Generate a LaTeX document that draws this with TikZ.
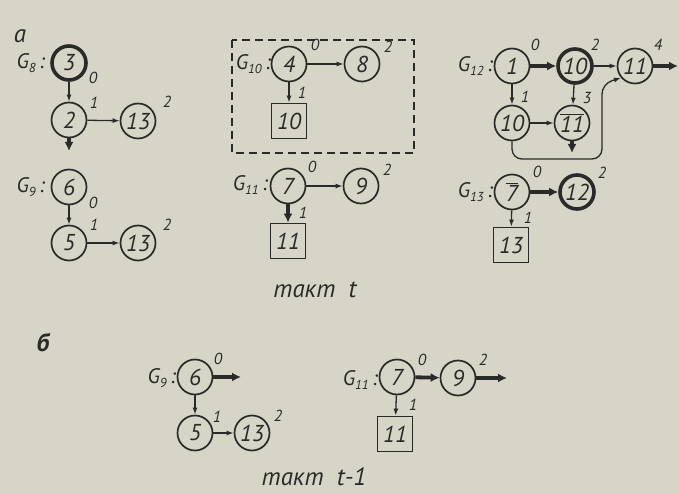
\documentclass[tikz,border=0pt]{standalone}
\usepackage{fontspec}
\setmainfont{PT Sans}
\usetikzlibrary{arrows.meta}
\definecolor{paper}{RGB}{214,213,199}
\definecolor{ink}{RGB}{42,42,40}
\newcommand\nfont{\fontsize{23}{23}\selectfont\itshape}
\newcommand\efont{\fontsize{16}{16}\selectfont\itshape}
\newcommand\gfont{\fontsize{21}{21}\selectfont\itshape}
\newcommand\sbfont{\fontsize{13}{13}\selectfont\itshape}
\newcommand\tfont{\fontsize{25}{25}\selectfont\itshape}
\newcommand\glab[1]{G\raisebox{-4pt}{\sbfont #1}\,:}
\newcommand\obar[1]{\(\overline{\mbox{#1}}\)}
\begin{document}
\begin{tikzpicture}[x=1pt,y=-1pt,
 every node/.style={text=ink},
 st/.style={circle,draw=ink,line width=1.7pt,minimum size=35pt,inner sep=0pt,font=\nfont},
 stk/.style={st,line width=3.6pt,minimum size=34pt},
 sq/.style={rectangle,draw=ink,line width=1.7pt,minimum size=35pt,inner sep=0pt,font=\nfont},
 el/.style={font=\efont,inner sep=0pt},
 gl/.style={font=\gfont,inner sep=0pt,anchor=east},
 ar/.style={draw=ink,line width=1.3pt,-{Latex[length=7pt,width=5pt]}},
 tk/.style={draw=ink,line width=3.8pt,-{Latex[length=9pt,width=9pt]}},
]
\useasboundingbox (0,0) rectangle (679,494);
\fill[paper] (0,0) rectangle (679,494);

% panel a
\node[font=\tfont] (pa) at (20,36) {а};

% G8
\node[stk] (n3) at (69,63) {3};
\node[st] (n2) at (69,120) {2};
\node[st] (n13a) at (138,121) {13};
\node[gl] (g8) at (45,63) {\glab{8}};
\node[el] (l3) at (93,78) {0};
\node[el] (l2) at (94,103) {1};
\node[el] (l13a) at (167,102) {2};
\draw[ar] (n3) -- (n2);
\draw[ar] (n2) -- (n13a);
\coordinate (d2) at (69,151);
\draw[tk] (n2) -- (d2);

% G9
\node[st] (n6) at (69,187) {6};
\node[st] (n5) at (69,243) {5};
\node[st] (n13b) at (138,243) {13};
\node[gl] (g9) at (45,187) {\glab{9}};
\node[el] (l6) at (93,203) {0};
\node[el] (l5) at (94,225) {1};
\node[el] (l13b) at (167,225) {2};
\draw[ar] (n6) -- (n5);
\draw[ar] (n5) -- (n13b);

% G10 (dashed box)
\draw[ink,line width=1.4pt,dash pattern=on 8pt off 5pt] (232,40) rectangle (414,153);
\node[st] (n4) at (289,64) {4};
\node[st] (n8) at (362,64) {8};
\node[sq] (s10) at (289,121) {10};
\node[gl] (g10) at (271,64) {\glab{10}};
\node[el] (l4) at (315,45) {0};
\node[el] (l8) at (388,47) {2};
\node[el] (l10) at (302,93) {1};
\draw[ar] (n4) -- (n8);
\draw[ar] (n4) -- (s10);

% G11 (top)
\node[st] (n7) at (288,186) {7};
\node[st] (n9) at (361,186) {9};
\node[sq] (s11) at (288,241) {11};
\node[gl] (g11) at (268,185) {\glab{11}};
\node[el] (l7) at (312,167) {0};
\node[el] (l9) at (387,170) {2};
\node[el] (l11) at (303,213) {1};
\draw[ar] (n7) -- (n9);
\draw[tk] (n7) -- (s11);
\node[font=\tfont] (ta) at (315,290) {такт\ \ t};

% G12
\node[st] (a1) at (512,66) {1};
\node[stk] (a10) at (575,66) {10};
\node[st] (a11) at (635,66) {11};
\node[st] (b10) at (512,123) {10};
\node[st] (b11) at (572,123) {\obar{11}};
\node[gl] (g12) at (493,66) {\glab{12}};
\node[el] (la1) at (535,45) {0};
\node[el] (la10) at (595,45) {2};
\node[el] (la11) at (658,45) {4};
\node[el] (lb10) at (525,97) {1};
\node[el] (lb11) at (587,98) {3};
\draw[tk] (a1) -- (a10);
\draw[ar] (a10) -- (a11);
\draw[ar] (a10) -- (b11);
\draw[ar] (a1) -- (b10);
\draw[ar] (b10) -- (b11);
\coordinate (oa11) at (678,66);
\draw[tk] (a11) -- (oa11);
\coordinate (db11) at (572,153);
\draw[tk] (b11) -- (db11);
\draw[ar,rounded corners=10pt] (b10.south) -- (512,159) -- (602,159) -- (602,84) -- (a11.220);

% G13
\node[st] (c7) at (512,192) {\obar{7}};
\node[stk] (c12) at (577,192) {12};
\node[sq] (s13) at (511,245) {13};
\node[gl] (g13) at (493,192) {\glab{13}};
\node[el] (lc7) at (537,172) {0};
\node[el] (lc12) at (602,173) {2};
\node[el] (ls13) at (528,218) {1};
\draw[tk] (c7) -- (c12);
\draw[ar] (c7) -- (s13);

% panel b
\node[font=\tfont\bfseries] (pb) at (43,343) {б};

% G9 (b)
\node[st] (m6) at (195,377) {6};
\node[st] (m5) at (195,433) {5};
\node[st] (m13) at (252,433) {13};
\node[gl] (h9) at (176,378) {\glab{9}};
\node[el] (lm6) at (218,359) {0};
\node[el] (lm5) at (217,417) {1};
\node[el] (lm13) at (278,416) {2};
\coordinate (om6) at (241,377);
\draw[tk] (m6) -- (om6);
\draw[ar] (m6) -- (m5);
\draw[ar] (m5) -- (m13);

% G11 (b)
\node[st] (m7) at (397,377) {7};
\node[st] (m9) at (458,378) {9};
\node[sq] (t11) at (395,434) {11};
\node[gl] (h11) at (378,380) {\glab{11}};
\node[el] (lm7) at (422,360) {0};
\node[el] (lm9) at (483,360) {2};
\node[el] (lt11) at (413,405) {1};
\draw[tk] (m7) -- (m9);
\coordinate (om9) at (507,378);
\draw[tk] (m9) -- (om9);
\draw[ar] (m7) -- (t11);
\node[font=\tfont] (tb) at (314,477) {такт\ \ t-1};
\end{tikzpicture}
\end{document}
